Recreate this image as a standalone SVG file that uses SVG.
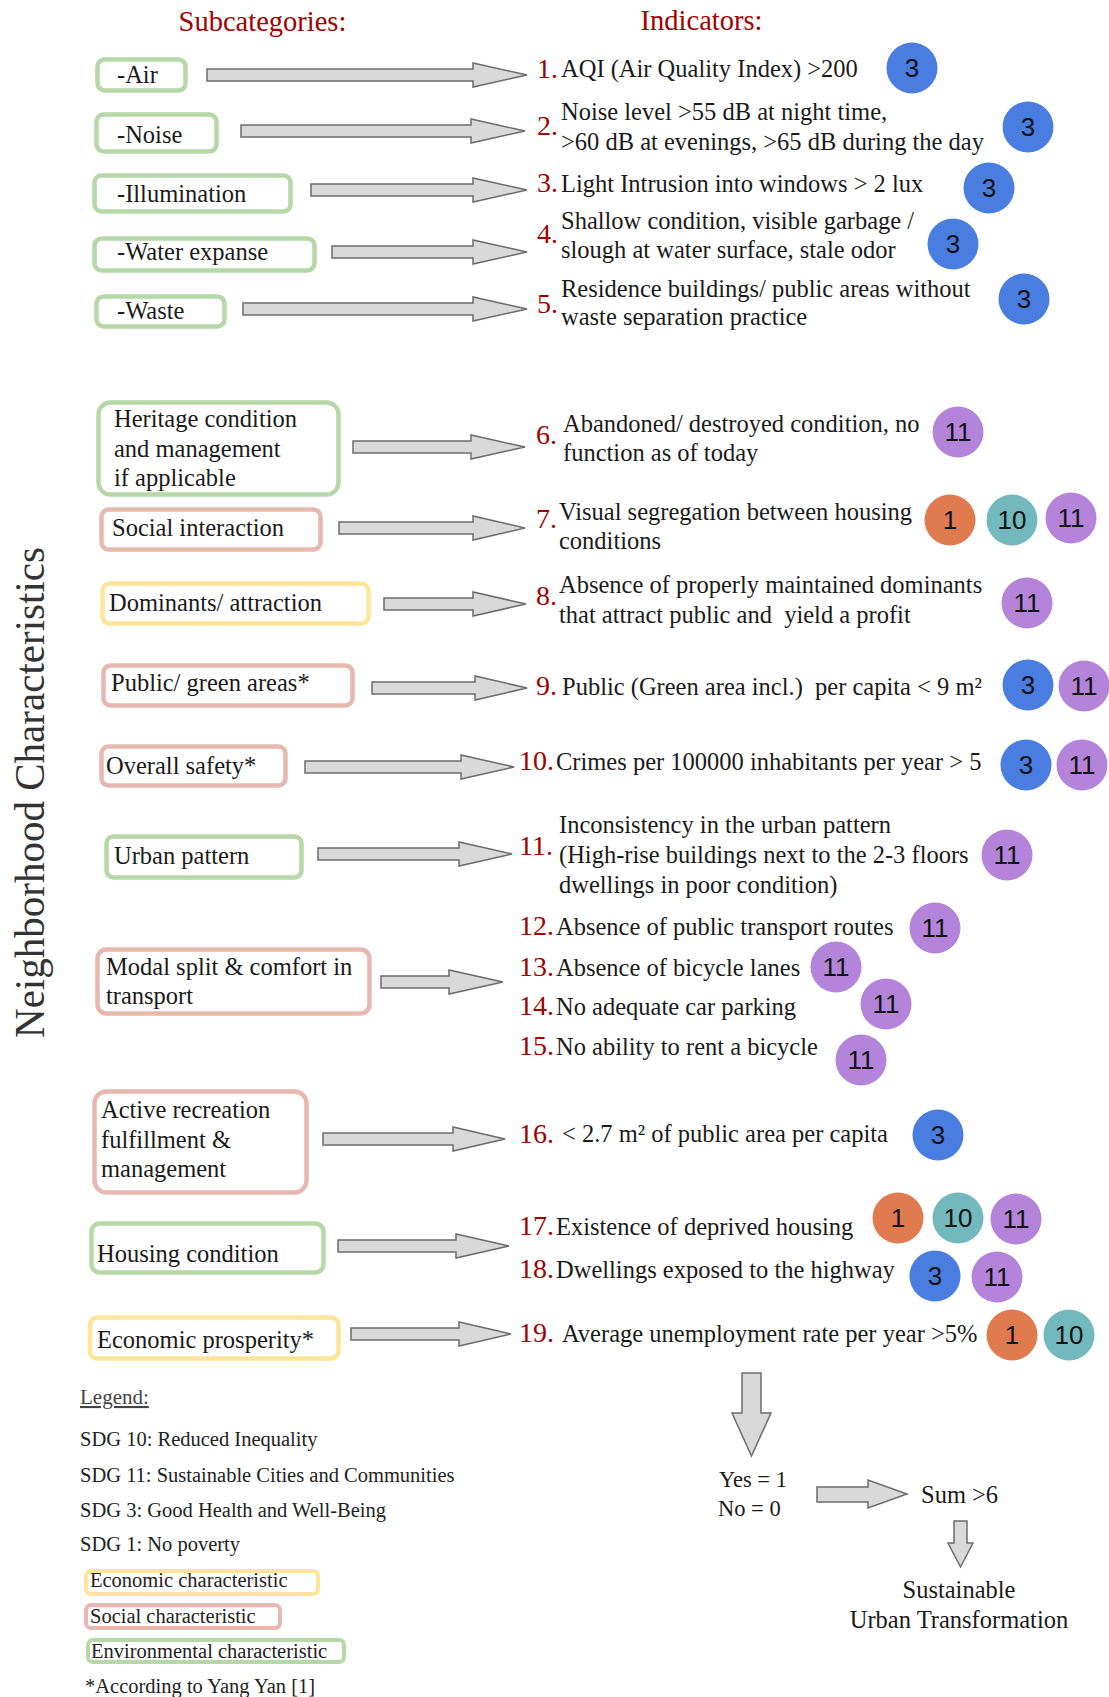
<svg xmlns="http://www.w3.org/2000/svg" width="1109" height="1697" viewBox="0 0 1109 1697">
<style>
text{font-family:"Liberation Serif","Times New Roman",serif;fill:#1a1a1a}
.hd{font-size:28.5px;fill:#a30000}
.bx{fill:#fff;stroke-width:4.5}
.env{stroke:#b6d7a8}
.soc{stroke:#e6b8af}
.eco{stroke:#ffe599}
.bt{font-size:24.5px}
.it{font-size:24.5px}
.num{font-size:28px;fill:#a30000}
.arr{fill:#d9d9d9;stroke:#6b6b6b;stroke-width:1.5;stroke-linejoin:miter}
.c3{fill:#4a7de0}.c11{fill:#b384d9}.c1{fill:#e07b4f}.c10{fill:#72b8bd}
.ct{font-family:"Liberation Sans",Arial,sans-serif;font-size:26px;text-anchor:middle;fill:#111}
.lg{font-size:20.5px;fill:#222}
.lb{fill:#fff;stroke-width:4}
.fl{font-size:24.5px}
</style>
<rect width="1109" height="1697" fill="#fff"/>
<text class="hd" x="178.6" y="31">Subcategories:</text>
<text class="hd" x="640.6" y="30">Indicators:</text>
<text transform="translate(44,1038) rotate(-90)" font-size="42" textLength="491" lengthAdjust="spacingAndGlyphs" style="fill:#333">Neighborhood Characteristics</text>

<g id="connectors">
<polygon class="arr" points="207,69 473,69 473,63 527,75 473,87 473,81 207,81"/>
<polygon class="arr" points="241,125 471,125 471,119 525,131 471,143 471,137 241,137"/>
<polygon class="arr" points="311,184 473,184 473,178 527,190 473,202 473,196 311,196"/>
<polygon class="arr" points="332,246 473,246 473,240 527,252 473,264 473,258 332,258"/>
<polygon class="arr" points="243,303 473,303 473,297 527,309 473,321 473,315 243,315"/>
<polygon class="arr" points="353,441 471,441 471,435 525,447 471,459 471,453 353,453"/>
<polygon class="arr" points="339,522 473,522 473,516 525,528 473,540 473,534 339,534"/>
<polygon class="arr" points="384,598 473,598 473,592 526,604 473,616 473,610 384,610"/>
<polygon class="arr" points="372,682 475,682 475,676 527,688 475,700 475,694 372,694"/>
<polygon class="arr" points="305,761 461,761 461,755 514,767 461,779 461,773 305,773"/>
<polygon class="arr" points="318,848 459,848 459,842 512,854 459,866 459,860 318,860"/>
<polygon class="arr" points="381,976 449,976 449,970 503,982 449,994 449,988 381,988"/>
<polygon class="arr" points="323,1133 453,1133 453,1127 505,1139 453,1151 453,1145 323,1145"/>
<polygon class="arr" points="338,1240 456,1240 456,1234 509,1246 456,1258 456,1252 338,1252"/>
<polygon class="arr" points="351,1328 459,1328 459,1322 511,1334 459,1346 459,1340 351,1340"/>
<polygon class="arr" points="742,1373 761,1373 761,1413 771,1413 751.5,1456 732,1413 742,1413"/>
<polygon class="arr" points="817,1487 868,1487 868,1480 907,1494 868,1508 868,1502 817,1502"/>
<polygon class="arr" points="954,1521 967,1521 967,1543 973,1543 960.5,1567 948,1543 954,1543"/>
</g>

<g id="sub-air"><rect class="bx env" x="97.5" y="59.5" width="88" height="31" rx="7"/><text class="bt" x="117" y="83">-Air</text></g>
<g id="sub-noise"><rect class="bx env" x="96.5" y="114.5" width="120" height="37" rx="7"/><text class="bt" x="117" y="143">-Noise</text></g>
<g id="sub-illumination"><rect class="bx env" x="94.5" y="175.5" width="196" height="36" rx="7"/><text class="bt" x="117" y="202">-Illumination</text></g>
<g id="sub-water"><rect class="bx env" x="94.5" y="238.5" width="220" height="32" rx="7"/><text class="bt" x="117" y="260">-Water expanse</text></g>
<g id="sub-waste"><rect class="bx env" x="96.5" y="296.5" width="128" height="30" rx="7"/><text class="bt" x="117" y="319">-Waste</text></g>
<g id="sub-heritage"><rect class="bx env" x="98.5" y="402.5" width="240" height="92" rx="12"/><text class="bt" x="114" y="427">Heritage condition</text><text class="bt" x="114" y="457">and management</text><text class="bt" x="114" y="486">if applicable</text></g>
<g id="sub-social"><rect class="bx soc" x="101.5" y="509.5" width="219" height="40" rx="7"/><text class="bt" x="112" y="536">Social interaction</text></g>
<g id="sub-dominants"><rect class="bx eco" x="102.5" y="583.5" width="266" height="40" rx="7"/><text class="bt" x="109" y="611">Dominants/ attraction</text></g>
<g id="sub-public"><rect class="bx soc" x="103.5" y="665.5" width="249" height="40" rx="7"/><text class="bt" x="111" y="691">Public/ green areas*</text></g>
<g id="sub-safety"><rect class="bx soc" x="101.5" y="746.5" width="184" height="39" rx="7"/><text class="bt" x="106" y="774">Overall safety*</text></g>
<g id="sub-urban"><rect class="bx env" x="106.5" y="836.5" width="195" height="41" rx="7"/><text class="bt" x="114" y="864">Urban pattern</text></g>
<g id="sub-modal"><rect class="bx soc" x="97.5" y="949.5" width="272" height="64" rx="9"/><text class="bt" x="106" y="975">Modal split &amp; comfort in</text><text class="bt" x="106" y="1004">transport</text></g>
<g id="sub-active"><rect class="bx soc" x="94.5" y="1091.5" width="212" height="101" rx="12"/><text class="bt" x="101" y="1118">Active recreation</text><text class="bt" x="101" y="1148">fulfillment &amp;</text><text class="bt" x="101" y="1177">management</text></g>
<g id="sub-housing"><rect class="bx env" x="91.5" y="1223.5" width="232" height="49" rx="8"/><text class="bt" x="97" y="1262">Housing condition</text></g>
<g id="sub-economic"><rect class="bx eco" x="90" y="1317.5" width="248.5" height="41" rx="7"/><text class="bt" x="97" y="1348">Economic prosperity*</text></g>

<g id="ind-1"><text class="num" x="537" y="78">1.</text><text class="it" x="561" y="77">AQI (Air Quality Index) &gt;200</text>
<circle class="c3" cx="912" cy="68" r="25.5"/><text class="ct" x="912" y="77">3</text></g>
<g id="ind-2"><text class="num" x="537" y="135">2.</text><text class="it" x="561" y="120">Noise level &gt;55 dB at night time,</text><text class="it" x="561" y="150">&gt;60 dB at evenings, &gt;65 dB during the day</text>
<circle class="c3" cx="1028" cy="127" r="25.5"/><text class="ct" x="1028" y="136">3</text></g>
<g id="ind-3"><text class="num" x="537" y="192">3.</text><text class="it" x="561" y="192">Light Intrusion into windows &gt; 2 lux</text>
<circle class="c3" cx="989" cy="188" r="25.5"/><text class="ct" x="989" y="197">3</text></g>
<g id="ind-4"><text class="num" x="537" y="243">4.</text><text class="it" x="561" y="229">Shallow condition, visible garbage /</text><text class="it" x="561" y="258">slough at water surface, stale odor</text>
<circle class="c3" cx="953" cy="244" r="25.5"/><text class="ct" x="953" y="253">3</text></g>
<g id="ind-5"><text class="num" x="537" y="313">5.</text><text class="it" x="561" y="297">Residence buildings/ public areas without</text><text class="it" x="561" y="325">waste separation practice</text>
<circle class="c3" cx="1024" cy="299" r="25.5"/><text class="ct" x="1024" y="308">3</text></g>
<g id="ind-6"><text class="num" x="536" y="444">6.</text><text class="it" x="563" y="432">Abandoned/ destroyed condition, no</text><text class="it" x="563" y="461">function as of today</text>
<circle class="c11" cx="958" cy="432" r="25.5"/><text class="ct" x="958" y="441">11</text></g>
<g id="ind-7"><text class="num" x="536" y="528">7.</text><text class="it" x="559" y="520">Visual segregation between housing</text><text class="it" x="559" y="549">conditions</text>
<circle class="c1" cx="950" cy="520" r="25.5"/><text class="ct" x="950" y="529">1</text>
<circle class="c10" cx="1012" cy="520" r="25.5"/><text class="ct" x="1012" y="529">10</text>
<circle class="c11" cx="1071" cy="518" r="25.5"/><text class="ct" x="1071" y="527">11</text></g>
<g id="ind-8"><text class="num" x="536" y="605">8.</text><text class="it" x="559" y="593">Absence of properly maintained dominants</text><text class="it" x="559" y="623" xml:space="preserve">that attract public and  yield a profit</text>
<circle class="c11" cx="1027" cy="603" r="25.5"/><text class="ct" x="1027" y="612">11</text></g>
<g id="ind-9"><text class="num" x="536" y="695">9.</text><text class="it" x="562" y="695" xml:space="preserve">Public (Green area incl.)  per capita &lt; 9 m²</text>
<circle class="c3" cx="1028" cy="685" r="25.5"/><text class="ct" x="1028" y="694">3</text>
<circle class="c11" cx="1084" cy="686" r="25.5"/><text class="ct" x="1084" y="695">11</text></g>
<g id="ind-10"><text class="num" x="519" y="770">10.</text><text class="it" x="556" y="770">Crimes per 100000 inhabitants per year &gt; 5</text>
<circle class="c3" cx="1026" cy="765" r="25.5"/><text class="ct" x="1026" y="774">3</text>
<circle class="c11" cx="1082" cy="765" r="25.5"/><text class="ct" x="1082" y="774">11</text></g>
<g id="ind-11"><text class="num" x="519" y="855">11.</text><text class="it" x="559" y="833">Inconsistency in the urban pattern</text><text class="it" x="559" y="863">(High-rise buildings next to the 2-3 floors</text><text class="it" x="559" y="893">dwellings in poor condition)</text>
<circle class="c11" cx="1007" cy="855" r="25.5"/><text class="ct" x="1007" y="864">11</text></g>
<g id="ind-12"><text class="num" x="519" y="935">12.</text><text class="it" x="556" y="935">Absence of public transport routes</text>
<circle class="c11" cx="935" cy="928" r="25.5"/><text class="ct" x="935" y="937">11</text></g>
<g id="ind-13"><text class="num" x="519" y="976">13.</text><text class="it" x="556" y="976">Absence of bicycle lanes</text>
<circle class="c11" cx="836" cy="967" r="25.5"/><text class="ct" x="836" y="976">11</text></g>
<g id="ind-14"><text class="num" x="519" y="1015">14.</text><text class="it" x="556" y="1015">No adequate car parking</text>
<circle class="c11" cx="886" cy="1004" r="25.5"/><text class="ct" x="886" y="1013">11</text></g>
<g id="ind-15"><text class="num" x="519" y="1055">15.</text><text class="it" x="556" y="1055">No ability to rent a bicycle</text>
<circle class="c11" cx="861" cy="1060" r="25.5"/><text class="ct" x="861" y="1069">11</text></g>
<g id="ind-16"><text class="num" x="519" y="1143">16.</text><text class="it" x="562" y="1142">&lt; 2.7 m² of public area per capita</text>
<circle class="c3" cx="938" cy="1135" r="25.5"/><text class="ct" x="938" y="1144">3</text></g>
<g id="ind-17"><text class="num" x="519" y="1235">17.</text><text class="it" x="556" y="1235">Existence of deprived housing</text>
<circle class="c1" cx="898" cy="1218" r="25.5"/><text class="ct" x="898" y="1227">1</text>
<circle class="c10" cx="958" cy="1218" r="25.5"/><text class="ct" x="958" y="1227">10</text>
<circle class="c11" cx="1016" cy="1219" r="25.5"/><text class="ct" x="1016" y="1228">11</text></g>
<g id="ind-18"><text class="num" x="519" y="1278">18.</text><text class="it" x="556" y="1278">Dwellings exposed to the highway</text>
<circle class="c3" cx="935" cy="1276" r="25.5"/><text class="ct" x="935" y="1285">3</text>
<circle class="c11" cx="997" cy="1277" r="25.5"/><text class="ct" x="997" y="1286">11</text></g>
<g id="ind-19"><text class="num" x="519" y="1342">19.</text><text class="it" x="562" y="1342">Average unemployment rate per year &gt;5%</text>
<circle class="c1" cx="1012" cy="1335" r="25.5"/><text class="ct" x="1012" y="1344">1</text>
<circle class="c10" cx="1069" cy="1335" r="25.5"/><text class="ct" x="1069" y="1344">10</text></g>

<g id="scoring"><text class="fl" x="719" y="1487" font-size="22.5" style="font-size:22.5px">Yes = 1</text><text class="fl" x="718" y="1516" style="font-size:22.5px">No = 0</text></g>
<g id="sum"><text class="fl" x="921" y="1503">Sum &gt;6</text></g>
<g id="result"><text class="fl" x="959" y="1598" text-anchor="middle">Sustainable</text><text class="fl" x="959" y="1628" text-anchor="middle">Urban Transformation</text></g>

<g id="legend">
<text class="lg" x="80" y="1404" text-decoration="underline" style="fill:#444;font-size:21px">Legend:</text>
<text class="lg" x="80" y="1446">SDG 10: Reduced Inequality</text>
<text class="lg" x="80" y="1482">SDG 11: Sustainable Cities and Communities</text>
<text class="lg" x="80" y="1517">SDG 3: Good Health and Well-Being</text>
<text class="lg" x="80" y="1551">SDG 1: No poverty</text>
<rect class="lb eco" x="86" y="1571" width="232" height="23" rx="5"/><text class="lg" x="90" y="1587">Economic characteristic</text>
<rect class="lb soc" x="86" y="1605" width="194" height="23" rx="5"/><text class="lg" x="90" y="1623">Social characteristic</text>
<rect class="lb env" x="88" y="1640" width="256" height="22" rx="5"/><text class="lg" x="91" y="1658">Environmental characteristic</text>
<text class="lg" x="85" y="1693">*According to Yang Yan [1]</text>
</g>
</svg>
